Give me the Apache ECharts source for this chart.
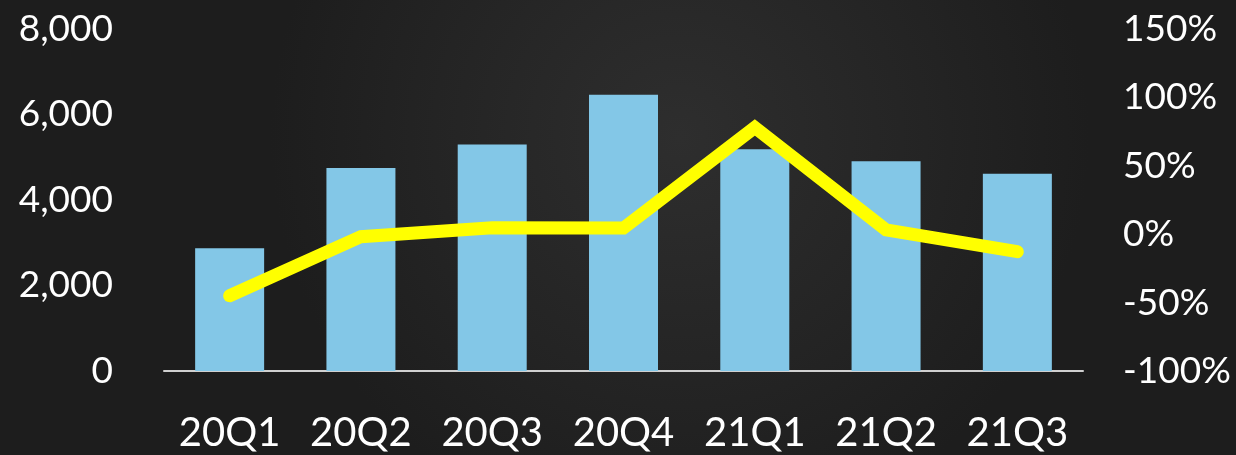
<!DOCTYPE html>
<html>
<head>
<meta charset="utf-8">
<script src="https://cdn.jsdelivr.net/npm/echarts@6/dist/echarts.min.js"></script>
<style>
html,body{margin:0;padding:0;background:#222;}
#chart{width:1236px;height:455px;}
</style>
</head>
<body>
<div id="chart"></div>
<script>
const categories = ['20Q1','20Q2','20Q3','20Q4','21Q1','21Q2','21Q3'];
const barValues = [2870, 4750, 5300, 6460, 5190, 4905, 4615];
const lineValues = [-45, -1.8, 4.7, 4.5, 78, 3.1, -12.8];
const leftTicks = {min: 0, max: 8000, interval: 2000};
const rightTicks = {min: -100, max: 150, interval: 50};

const chart = echarts.init(document.getElementById('chart'));
const font = 'Lato, "Open Sans", sans-serif';
chart.setOption({
  backgroundColor: {
    type: 'radial', x: 0.55, y: 0.3, r: 0.9,
    colorStops: [{offset: 0, color: '#2e2e2e'}, {offset: 0.6, color: '#242424'}, {offset: 1, color: '#1d1d1d'}]
  },
  grid: {left: 164, right: 153, top: 29, bottom: 84},
  xAxis: {
    type: 'category', data: categories,
    axisLine: {lineStyle: {color: '#d0d0d0', width: 2}},
    axisTick: {show: false},
    axisLabel: {color: '#ffffff', fontSize: 40, fontFamily: font, margin: 42, interval: 0, hideOverlap: false}
  },
  yAxis: [{
    type: 'value', min: leftTicks.min, max: leftTicks.max, interval: leftTicks.interval,
    splitLine: {show: false}, axisLine: {show: false}, axisTick: {show: false},
    axisLabel: {color: '#ffffff', fontSize: 37, fontFamily: font, margin: 51,
      formatter: v => v.toLocaleString('en-US')}
  }, {
    type: 'value', min: rightTicks.min, max: rightTicks.max, interval: rightTicks.interval,
    splitLine: {show: false}, axisLine: {show: false}, axisTick: {show: false},
    axisLabel: {color: '#ffffff', fontSize: 37, fontFamily: font, margin: 40,
      formatter: v => v + '%'}
  }],
  series: [{
    type: 'bar', data: barValues, yAxisIndex: 0, barWidth: 69,
    itemStyle: {color: '#83C7E7'}
  }, {
    type: 'line', data: lineValues, yAxisIndex: 1, symbol: 'none',
    lineStyle: {color: '#FFFF00', width: 13, cap: 'round', join: 'miter'},
    z: 5
  }]
});
</script>
</body>
</html>
